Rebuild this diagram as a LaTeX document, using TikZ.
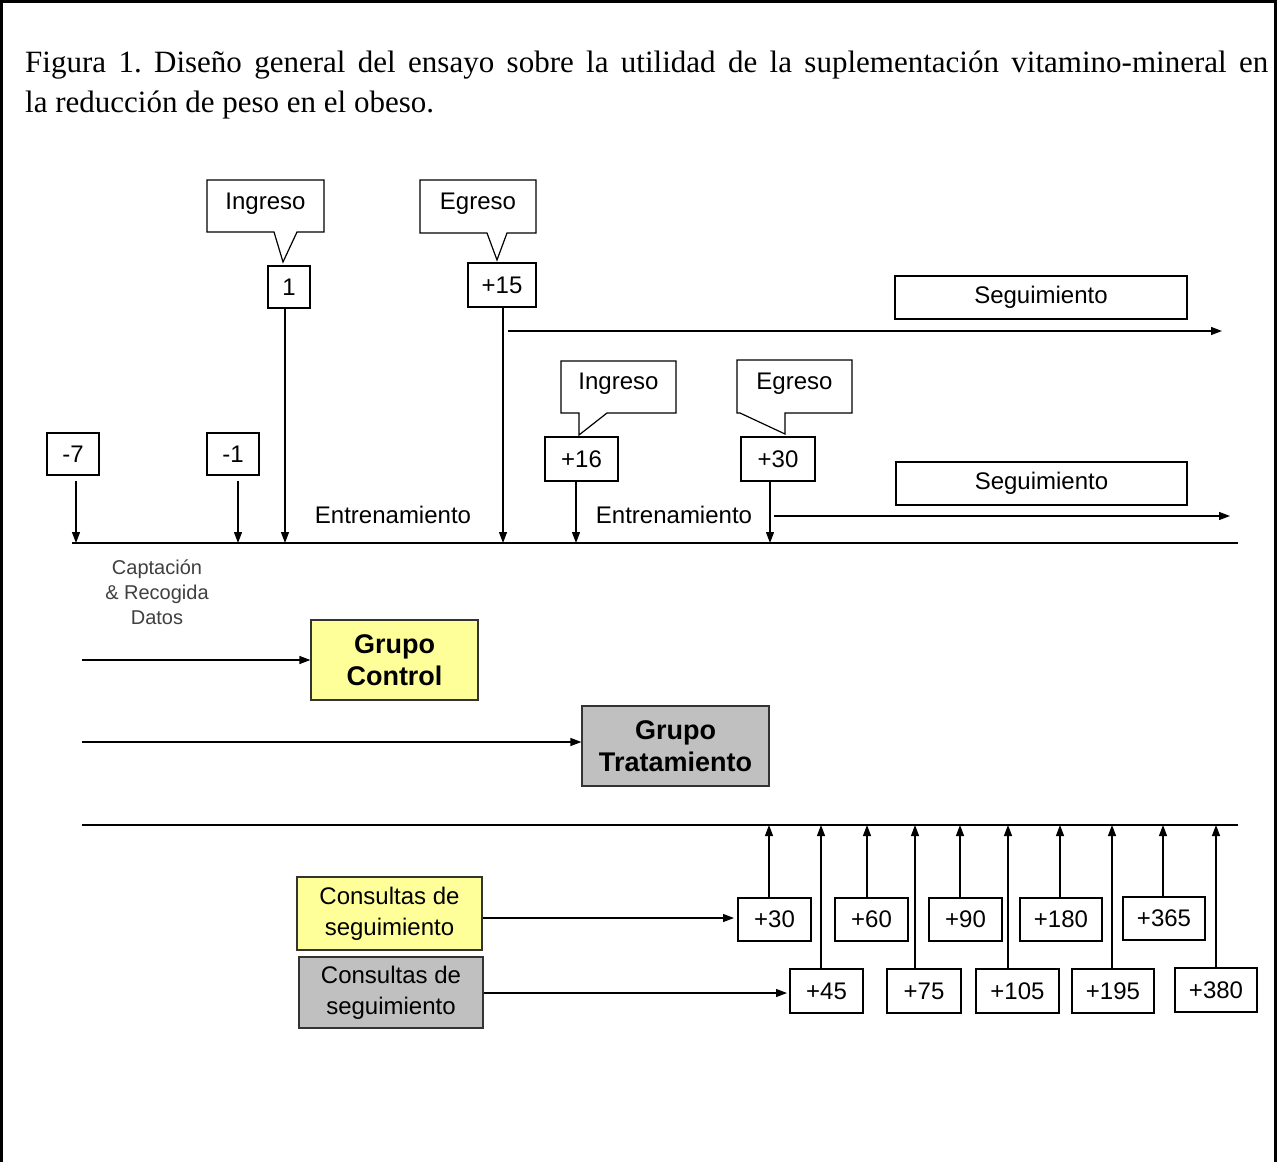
\documentclass[tikz,border=0pt]{standalone}
\usepackage{fontspec}
\setmainfont{Liberation Serif}
\setsansfont{Liberation Sans}
\usetikzlibrary{arrows.meta}
\definecolor{ylw}{HTML}{FFFF99}
\definecolor{gry}{HTML}{C0C0C0}
\definecolor{captxt}{HTML}{404040}
\frenchspacing
\begin{document}
\begin{tikzpicture}[x=1pt,y=-1pt,
  arr/.style={-{Triangle[length=11pt,width=8pt]}, line width=1.2pt},
  axis/.style={line width=1.3pt},
  lbl/.style={font=\sffamily\fontsize{24}{24}\selectfont, inner sep=0},
  nbox/.style={draw, line width=1.2pt, inner sep=0, font=\sffamily\fontsize{24}{24}\selectfont},
  callout/.style={draw, line width=1.2pt, line join=miter},
  grp/.style={draw=black!80, line width=1.2pt, inner sep=0, align=center, font=\sffamily\bfseries\fontsize{27}{32}\selectfont},
  cons/.style={draw=black!80, line width=1.2pt, inner sep=0, align=center, font=\sffamily\fontsize{24}{31}\selectfont}
]
\useasboundingbox (0,0) rectangle (1277,1162);
\fill[white] (0,0) rectangle (1277,1162);
% frame
\draw[line width=3pt] (1.5,1162) -- (1.5,1.5) -- (1275.5,1.5) -- (1275.5,1162);

% title
\node[anchor=base west, text width=1243pt, align=justify, inner sep=0,
      font=\fontsize{31}{40}\selectfont] (title) at (25,72)
  {\noindent Figura 1. Diseño general del ensayo sobre la utilidad de la suplementación vitamino-mineral en\linebreak la reducción de peso en el obeso.};

% ---------- upper timeline ----------
\coordinate (axL) at (72,543);
\coordinate (axR) at (1238,543);
\draw[axis] (axL) -- (axR);

% callout Ingreso (1)
\draw[callout] (207,180) -- (324,180) -- (324,232) -- (297,232) -- (283,262) -- (274,232) -- (207,232) -- cycle;
\node[lbl] (ing1) at (265.5,204) {Ingreso};
% callout Egreso (+15)
\draw[callout] (420,180) -- (536,180) -- (536,233) -- (507,233) -- (497,260) -- (487,233) -- (420,233) -- cycle;
\node[lbl] (egr1) at (478,204) {Egreso};
% callout Ingreso (+16)
\draw[callout] (561,361) -- (676,361) -- (676,413) -- (607,413) -- (579,435) -- (579,413) -- (561,413) -- cycle;
\node[lbl] (ing2) at (618.5,384) {Ingreso};
% callout Egreso (+30)
\draw[callout] (737,360) -- (852,360) -- (852,413) -- (785,413) -- (785,434) -- (740,413) -- (737,413) -- cycle;
\node[lbl] (egr2) at (794.5,384) {Egreso};

% day boxes
\node[nbox, minimum width=42pt, minimum height=42pt] (d1) at (289,287) {1};
\node[nbox, minimum width=68pt, minimum height=44pt] (d15) at (502,285) {+15};
\node[nbox, minimum width=52pt, minimum height=42pt] (dm7) at (73,454) {-7};
\node[nbox, minimum width=52pt, minimum height=42pt] (dm1) at (233,454) {-1};
\node[nbox, minimum width=73pt, minimum height=44pt] (d16) at (581.5,459) {+16};
\node[nbox, minimum width=74pt, minimum height=44pt] (d30) at (778,459) {+30};

% Seguimiento boxes
\node[nbox, minimum width=292pt, minimum height=43pt] (seg1) at (1041,297.5) {Seguimiento};
\node[nbox, minimum width=291pt, minimum height=43pt] (seg2) at (1041.5,483.5) {Seguimiento};

% arrows to axis
\coordinate (a1) at (285,543);
\coordinate (a15) at (503,543);
\coordinate (am7) at (76,543);
\coordinate (am1) at (238,543);
\coordinate (a16) at (576,543);
\coordinate (a30) at (770,543);
\draw[arr] (d1.south -| a1) -- (a1);
\draw[arr] (d15.south -| a15) -- (a15);
\draw[arr] ([yshift=-5pt]dm7.south -| am7) -- (am7);
\draw[arr] ([yshift=-5pt]dm1.south -| am1) -- (am1);
\draw[arr] (d16.south -| a16) -- (a16);
\draw[arr] (d30.south -| a30) -- (a30);

% follow-up arrows
\coordinate (s1a) at (508,331);
\coordinate (s1b) at (1222,331);
\draw[arr] (s1a) -- (s1b);
\coordinate (s2a) at (774,516);
\coordinate (s2b) at (1230,516);
\draw[arr] (s2a) -- (s2b);

% labels
\node[lbl] (ent1) at (393,515) {Entrenamiento};
\node[lbl] (ent2) at (674,515) {Entrenamiento};
\node[inner sep=0, align=center, text=captxt, font=\sffamily\fontsize{20}{25}\selectfont] (capt) at (157,592)
  {Captación\\\& Recogida\\Datos};

% ---------- groups ----------
\node[grp, fill=ylw, minimum width=167pt, minimum height=80pt] (gc) at (394.5,660) {Grupo\\Control};
\node[grp, fill=gry, minimum width=187pt, minimum height=80pt] (gt) at (675.5,746) {Grupo\\Tratamiento};
\coordinate (gcs) at (82,660);
\coordinate (gts) at (82,742);
\draw[arr] (gcs) -- (gc.west |- gcs);
\draw[arr] (gts) -- (gt.west |- gts);

% ---------- lower timeline ----------
\coordinate (bxL) at (82,825);
\coordinate (bxR) at (1238,825);
\draw[axis] (bxL) -- (bxR);

\node[cons, fill=ylw, minimum width=185pt, minimum height=73pt] (cy) at (389.5,913.5) {Consultas de\\seguimiento};
\node[cons, fill=gry, minimum width=184pt, minimum height=71pt] (cg) at (391,992.5) {Consultas de\\seguimiento};

% top row
\node[nbox, minimum width=73pt, minimum height=43pt] (p30) at (774.5,919.5) {+30};
\node[nbox, minimum width=73pt, minimum height=43pt] (p60) at (871.5,919.5) {+60};
\node[nbox, minimum width=73pt, minimum height=43pt] (p90) at (965.5,919.5) {+90};
\node[nbox, minimum width=82pt, minimum height=43pt] (p180) at (1061,919.5) {+180};
\node[nbox, minimum width=82pt, minimum height=43pt] (p365) at (1164,918.5) {+365};
% bottom row
\node[nbox, minimum width=73pt, minimum height=44pt] (p45) at (826.5,991) {+45};
\node[nbox, minimum width=74pt, minimum height=44pt] (p75) at (924,991) {+75};
\node[nbox, minimum width=83pt, minimum height=44pt] (p105) at (1017.5,991) {+105};
\node[nbox, minimum width=82pt, minimum height=44pt] (p195) at (1113,991) {+195};
\node[nbox, minimum width=82pt, minimum height=44pt] (p380) at (1216,990) {+380};

\coordinate (b30) at (769,825);
\coordinate (b60) at (867,825);
\coordinate (b90) at (960,825);
\coordinate (b180) at (1060,825);
\coordinate (b365) at (1163,825);
\coordinate (b45) at (821,825);
\coordinate (b75) at (915,825);
\coordinate (b105) at (1008,825);
\coordinate (b195) at (1112,825);
\coordinate (b380) at (1216,825);
\foreach \n in {30,60,90,180,365,45,75,105,195,380}{
  \draw[arr] (p\n.north -| b\n) -- (b\n);
}

\coordinate (cyend) at (734,918);
\coordinate (cgend) at (787,993);
\draw[arr] (cy.east |- cyend) -- (cyend);
\draw[arr] (cg.east |- cgend) -- (cgend);
\end{tikzpicture}
\end{document}
